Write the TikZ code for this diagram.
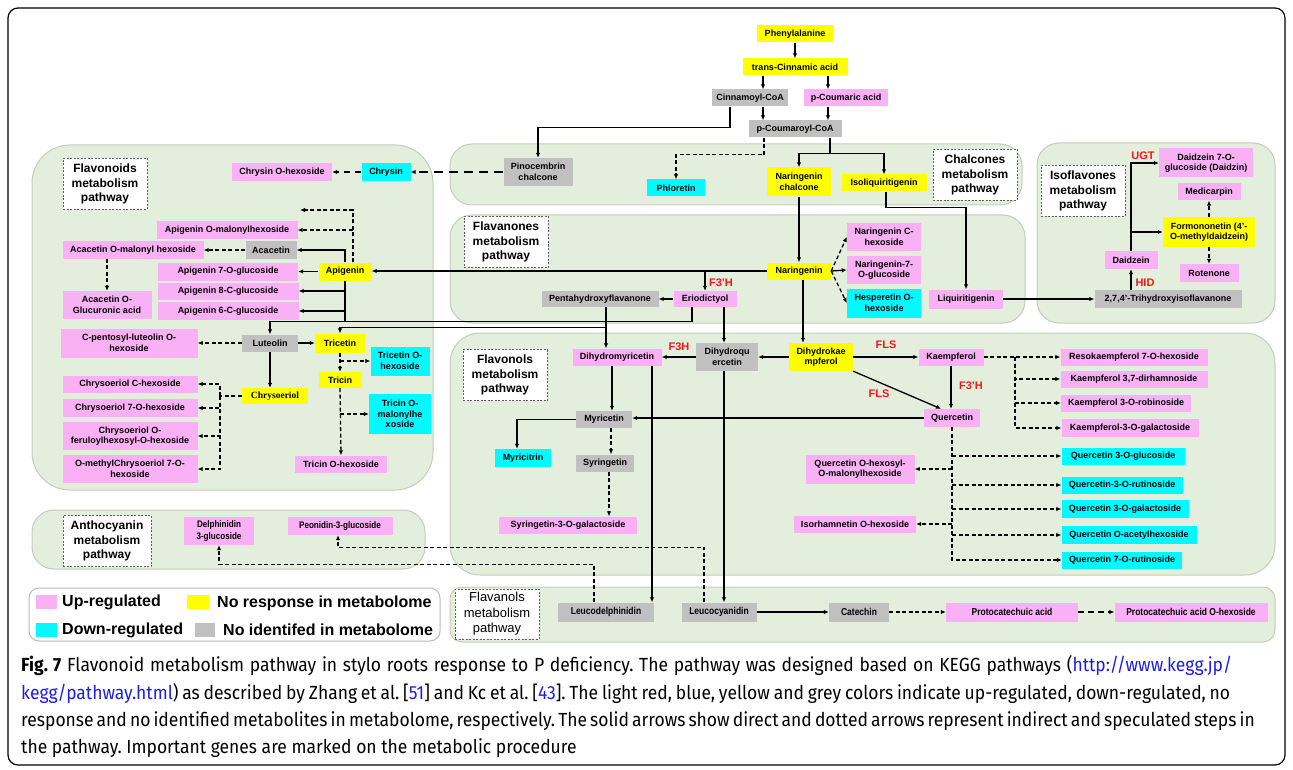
\documentclass[tikz,border=0pt]{standalone}
\usepackage{fontspec}
\setmainfont{Liberation Sans}
\newfontfamily\serifbold{Liberation Serif}
\newfontfamily\narrowfont[FakeStretch=0.85]{Liberation Sans}
\newfontfamily\captionfont[FakeStretch=0.92]{Fira Sans}
\usetikzlibrary{arrows.meta}
\frenchspacing

\definecolor{uppink}{RGB}{250,176,245}
\definecolor{noyellow}{RGB}{255,255,0}
\definecolor{downcyan}{RGB}{0,250,255}
\definecolor{noidgrey}{RGB}{192,192,192}
\definecolor{panelfill}{RGB}{228,238,220}
\definecolor{paneldraw}{RGB}{196,204,190}
\definecolor{genered}{RGB}{240,24,24}
\definecolor{linkblue}{RGB}{30,30,225}

\begin{document}
\begin{tikzpicture}[
            x = 1pt, y = -1pt, % pixel grid, y runs down
            > = {Latex[length=5pt, width=4.5pt]}, % arrow head style
            wd/.style = {minimum width=#1},
            twoline/.style = {minimum height=28}
        ]

        \tikzstyle{metab}=[
            inner sep = 1pt,
            align = center,
            minimum height = 17,
            font = \bfseries\fontsize{9}{10.5}\selectfont
        ]
        \tikzstyle{upreg}=[metab, fill=uppink]
        \tikzstyle{noresp}=[metab, fill=noyellow]
        \tikzstyle{downreg}=[metab, fill=downcyan]
        \tikzstyle{noident}=[metab, fill=noidgrey]
        \tikzstyle{panel}=[fill=panelfill, draw=paneldraw, line width=1pt, rounded corners=22]
        \tikzstyle{pathlabel}=[
            draw = gray!75!black,
            dash pattern = on 2pt off 1.5pt,
            line width = 0.8pt,
            fill = white,
            align = center,
            inner sep = 1pt,
            minimum width = 84,
            minimum height = 51,
            font = \bfseries\fontsize{12}{14.5}\selectfont
        ]
        \tikzstyle{gene}=[text=genered, font=\bfseries\fontsize{11}{12}\selectfont]
        \tikzstyle{arr}=[->, line width=1.3pt]
        \tikzstyle{darr}=[->, line width=1.3pt, dash pattern=on 4pt off 2.5pt]
        \tikzstyle{dline}=[line width=1.3pt, dash pattern=on 4pt off 2.5pt]
        \tikzstyle{legtext}=[anchor=west, inner sep=0pt, font=\bfseries\fontsize{16}{18}\selectfont]

        \useasboundingbox (0,0) rectangle (1293,770);
        \draw[line width=1.2pt, rounded corners=10] (8,8) rectangle (1285,765);

        % pathway panels
        \draw[panel, rounded corners=38] (32,145) rectangle (433,490);
        \draw[panel] (450,144) rectangle (1022,205);
        \draw[panel] (450,215) rectangle (1025,323);
        \draw[panel] (1037,143) rectangle (1275,323);
        \draw[panel, rounded corners=30] (450,333) rectangle (1275,575);
        \draw[panel] (32,510) rectangle (425,569);
        \draw[panel, rounded corners=12] (450,587) rectangle (1275,642);
        \draw[fill=white, draw=gray!55, line width=1pt, rounded corners=10] (29,588) rectangle (440,641);

        \node[pathlabel] (lflavd) at (105,184) {Flavonoids\\metabolism\\pathway};
        \node[pathlabel] (lchal) at (975,175) {Chalcones\\metabolism\\pathway};
        \node[pathlabel] (lflavn) at (506,242) {Flavanones\\metabolism\\pathway};
        \node[pathlabel] (lisofl) at (1083,191) {Isoflavones\\metabolism\\pathway};
        \node[pathlabel] (lflavl) at (505,375) {Flavonols\\metabolism\\pathway};
        \node[pathlabel, minimum width=88] (lanth) at (107,541) {Anthocyanin\\metabolism\\pathway};
        \node[pathlabel, minimum height=50, font=\fontsize{13}{15.5}\selectfont] (lflvn) at (497,614) {Flavanols\\metabolism\\pathway};

        % top of the pathway
        \node[noresp, wd=76] (phe) at (795,34) {Phenylalanine};
        \node[noresp, wd=105] (tca) at (795,67) {trans-Cinnamic acid};
        \node[noident, wd=76] (cin) at (750,98) {Cinnamoyl-CoA};
        \node[upreg, wd=84] (pca) at (846,98) {p-Coumaric acid};
        \node[noident, wd=93] (pcoa) at (795,129) {p-Coumaroyl-CoA};

        % chalcones
        \node[noident, wd=69, twoline] (pino) at (538,172) {Pinocembrin\\chalcone};
        \node[downreg, wd=58] (phlo) at (676,188) {Phloretin};
        \node[noresp, wd=64, minimum height=29] (narch) at (799,182) {Naringenin\\chalcone};
        \node[noresp, wd=85] (isoliq) at (884,183) {Isoliquiritigenin};

        % flavonoids
        \node[upreg, wd=100, minimum height=18] (chrhex) at (282,172) {Chrysin O-hexoside};
        \node[downreg, wd=49, minimum height=18] (chrysin) at (386,172) {Chrysin};
        \node[upreg, wd=141, minimum height=18] (apimal) at (227,230) {Apigenin O-malonylhexoside};
        \node[upreg, wd=141] (acamal) at (133,250) {Acacetin O-malonyl hexoside};
        \node[noident, wd=51] (acacetin) at (271,250) {Acacetin};
        \node[upreg, wd=140, minimum height=18] (api7) at (228,271.5) {Apigenin 7-O-glucoside};
        \node[noresp, wd=53, minimum height=18] (apigenin) at (345,271.5) {Apigenin};
        \node[upreg, wd=141] (api8) at (228,291) {Apigenin 8-C-glucoside};
        \node[upreg, wd=141, minimum height=18] (api6) at (228,311) {Apigenin 6-C-glucoside};
        \node[upreg, wd=89, twoline] (acaglu) at (107,305) {Acacetin O-\\Glucuronic acid};
        \node[upreg, wd=137, minimum height=29] (cpent) at (129,343) {C-pentosyl-luteolin O-\\hexoside};
        \node[noident, wd=56] (luteolin) at (270,343) {Luteolin};
        \node[noresp, wd=50, minimum height=19] (tricetin) at (340,343) {Tricetin};
        \node[downreg, wd=59, minimum height=29] (tricethex) at (400,361) {Tricetin O-\\hexoside};
        \node[noresp, wd=43, minimum height=16] (tricin) at (340,380) {Tricin};
        \node[downreg, wd=62, minimum height=40] (tricmal) at (400,414) {Tricin O-\\malonylhe\\xoside};
        \node[upreg, wd=92] (trichex) at (341,464) {Tricin O-hexoside};
        \node[noresp, wd=66, minimum height=16, font=\serifbold\bfseries\fontsize{9.5}{11}\selectfont] (chryso) at (275,396) {Chrysoeriol};
        \node[upreg, wd=135] (chc) at (130,384) {Chrysoeriol C-hexoside};
        \node[upreg, wd=135, minimum height=18] (ch7) at (130,408) {Chrysoeriol 7-O-hexoside};
        \node[upreg, wd=135, twoline] (chfer) at (130,436) {Chrysoeriol O-\\feruloylhexosyl-O-hexoside};
        \node[upreg, wd=135, twoline] (chmet) at (130,469) {O-methylChrysoeriol 7-O-\\hexoside};

        % flavanones
        \node[noresp, wd=64] (naringenin) at (799,271) {Naringenin};
        \node[upreg, wd=63, minimum height=16] (erio) at (705,299) {Eriodictyol};
        \node[noident, wd=117, minimum height=16] (penta) at (600,299) {Pentahydroxyflavanone};
        \node[upreg, wd=74, twoline] (narc) at (884,237) {Naringenin C-\\hexoside};
        \node[upreg, wd=74, twoline] (nar7) at (884,270) {Naringenin-7-\\O-glucoside};
        \node[downreg, wd=74, minimum height=29] (hesp) at (884,303) {Hesperetin O-\\hexoside};
        \node[upreg, wd=74, minimum height=19] (liq) at (966,299) {Liquiritigenin};

        % isoflavones
        \node[noident, wd=147, minimum height=18] (trihyd) at (1168,299) {2,7,4'-Trihydroxyisoflavanone};
        \node[upreg, wd=53, minimum height=18] (daidzein) at (1131,260) {Daidzein};
        \node[upreg, wd=94, minimum height=29] (daidzin) at (1206,163) {Daidzein 7-O-\\glucoside (Daidzin)};
        \node[upreg, wd=63] (medi) at (1209,192) {Medicarpin};
        \node[noresp, wd=92, minimum height=30] (formo) at (1209,232) {Formononetin (4'-\\O-methyldaidzein)};
        \node[upreg, wd=59, minimum height=18] (roten) at (1209,273) {Rotenone};

        % flavonols
        \node[upreg, wd=89] (dhm) at (617,357) {Dihydromyricetin};
        \node[noident, wd=62, twoline] (dhq) at (727,357) {Dihydroqu\\ercetin};
        \node[noresp, wd=64, twoline] (dhk) at (821,357) {Dihydrokae\\mpferol};
        \node[upreg, wd=65] (kaemp) at (951,357) {Kaempferol};
        \node[upreg, wd=56, minimum height=18] (querc) at (952,418) {Quercetin};
        \node[noident, wd=56] (myric) at (604,419.5) {Myricetin};
        \node[downreg, wd=56, minimum height=18] (myrtn) at (523,458) {Myricitrin};
        \node[noident, wd=58] (syrin) at (605,463) {Syringetin};
        \node[upreg, wd=138] (syrgal) at (568,525) {Syringetin-3-O-galactoside};
        \node[upreg, wd=147] (reso) at (1134,357) {Resokaempferol 7-O-hexoside};
        \node[upreg, wd=147] (kdir) at (1134,379) {Kaempferol 3,7-dirhamnoside};
        \node[upreg, wd=130] (krob) at (1126,403) {Kaempferol 3-O-robinoside};
        \node[upreg, wd=137, minimum height=18] (kgal) at (1130,428) {Kaempferol-3-O-galactoside};
        \node[downreg, wd=123] (qglu) at (1123,456) {Quercetin 3-O-glucoside};
        \node[downreg, wd=121] (qrut) at (1122,485) {Quercetin-3-O-rutinoside};
        \node[downreg, wd=127, minimum height=18] (qgal) at (1125,509) {Quercetin 3-O-galactoside};
        \node[downreg, wd=135, minimum height=18] (qace) at (1129,535) {Quercetin O-acetylhexoside};
        \node[downreg, wd=120] (q7rut) at (1122,560) {Quercetin 7-O-rutinoside};
        \node[upreg, wd=109, minimum height=29] (qhex) at (860,469) {Quercetin O-hexosyl-\\O-malonylhexoside};
        \node[upreg, wd=122] (isorh) at (855,524) {Isorhamnetin O-hexoside};

        % anthocyanins
        \node[upreg, wd=70, twoline, font=\narrowfont\bfseries\fontsize{9.5}{11.5}\selectfont] (delph) at (219,531) {Delphinidin\\3-glucoside};
        \node[upreg, wd=105, minimum height=18, font=\narrowfont\bfseries\fontsize{9.5}{11}\selectfont] (peon) at (340,526) {Peonidin-3-glucoside};

        % flavanols
        \tikzstyle{narrowbox}=[minimum height=19, font=\narrowfont\bfseries\fontsize{10}{12}\selectfont]
        \node[noident, narrowbox, wd=96] (leucod) at (606,612) {Leucodelphinidin};
        \node[noident, narrowbox, wd=75] (leucoc) at (719,612) {Leucocyanidin};
        \node[noident, narrowbox, wd=60] (catec) at (859,612) {Catechin};
        \node[upreg, narrowbox, wd=132] (proto) at (1012,612) {Protocatechuic acid};
        \node[upreg, narrowbox, wd=153] (protoh) at (1191,612) {Protocatechuic acid O-hexoside};

        % genes
        \node[gene] (g1) at (721,283) {F3'H};
        \node[gene] (g2) at (679,347) {F3H};
        \node[gene] (g3) at (886,345) {FLS};
        \node[gene] (g4) at (879,394) {FLS};
        \node[gene] (g5) at (971,386) {F3'H};
        \node[gene] (g6) at (1143,156) {UGT};
        \node[gene] (g7) at (1145,283) {HID};

        % free ends and split points
        \coordinate (apifree) at (300,210);
        \coordinate (chsplit) at (220,396);
        \coordinate (ksplit) at (1015,357);

        % phenylpropanoid steps
        \draw[arr] (phe.south) -- (tca.north);
        \draw[arr] ([xshift=-32]tca.south) -- ([xshift=13]cin.north);
        \draw[arr] ([xshift=33]tca.south) -- ([xshift=-18]pca.north);
        \draw[arr] ([xshift=13]cin.south) -- ([xshift=-32]pcoa.north);
        \draw[arr] ([xshift=-18]pca.south) -- ([xshift=33]pcoa.north);
        \draw[arr] ([xshift=-20]cin.south) -- ++(0,21) -| (pino.north);
        \draw[darr] ([xshift=-31]pcoa.south) -- ++(0,17) -| (phlo.north);
        \draw[line width=1.3pt] ([xshift=35]pcoa.south) -- ++(0,16) coordinate (nsplit);
        \draw[arr] (nsplit) -| (narch.north);
        \draw[arr] (nsplit) -| (isoliq.north);
        \draw[->, line width=1.3pt, dash pattern=on 9pt off 6pt] (pino.west) -- (chrysin.east);
        \draw[->, line width=1.3pt, dash pattern=on 6pt off 5pt] (chrysin.west) -- (chrhex.east);

        % chalcones to flavanones and isoflavones
        \draw[arr] (narch.south) -- (naringenin.north);
        \draw[arr] ([xshift=2]isoliq.south) -- ++(0,16) -| (liq.north);
        \draw[arr] (liq.east) -- (trihyd.west);
        \draw[arr] (trihyd.north -| daidzein.south) -- (daidzein.south);
        \draw[arr] (daidzein.north) |- (daidzin.west);
        \draw[arr] (daidzein.north |- formo.west) -- (formo.west);
        \draw[darr] (formo.north -| medi.south) -- (medi.south);
        \draw[darr] (formo.south -| roten.north) -- (roten.north);
        \draw[darr] (naringenin.east) -- (narc.west);
        \draw[arr] (naringenin.east) -- (nar7.west);
        \draw[darr] (naringenin.east) -- (hesp.west);

        % flavanones to flavones
        \draw[arr] (naringenin.west) -- (naringenin.west -| apigenin.east);
        \draw[arr] (naringenin.west -| erio.north) -- (erio.north);
        \draw[arr] (erio.west) -- (penta.east);
        \draw[arr] ([xshift=-13]erio.south) -- ++(0,14) -| (luteolin.north);
        \draw[arr] ([xshift=6]penta.south) -- ++(0,20) -| (tricetin.north);
        \draw[arr] ([xshift=6]penta.south) -- ([xshift=-11]dhm.north);

        % flavones
        \draw[arr] (apigenin.west) -- (api7.east);
        \draw[line width=1.3pt] (apigenin.south) -- ++(0,40);
        \draw[arr] (apigenin.south |- api8.east) -- (api8.east);
        \draw[arr] (apigenin.south |- api6.east) -- (api6.east);
        \draw[arr] (apigenin.north) |- (acacetin.east);
        \draw[darr] ([xshift=8]apigenin.north) |- (apimal.east);
        \draw[darr] ([xshift=8]apigenin.north) |- (apifree);
        \draw[darr] (acacetin.west) -- (acamal.east);
        \draw[darr] (acamal.south -| acaglu.north) -- (acaglu.north);
        \draw[arr] (luteolin.east) -- (tricetin.west);
        \draw[darr] (luteolin.west) -- (cpent.east);
        \draw[arr] (luteolin.south) -- (luteolin.south |- chryso.north);
        \draw[dline] (chryso.west) -- (chsplit);
        \draw[darr] (chsplit) |- (chc.east);
        \draw[darr] (chsplit) |- (ch7.east);
        \draw[darr] (chsplit) |- (chfer.east);
        \draw[darr] (chsplit) |- (chmet.east);
        \draw[darr] (tricetin.south) -- (tricin.north);
        \draw[darr] (tricetin.south |- tricethex.west) -- (tricethex.west);
        \draw[darr] (tricin.south) -- (trichex.north);
        \draw[darr] (tricin.south |- tricmal.west) -- (tricmal.west);

        % flavonols
        \draw[arr] ([xshift=4]naringenin.south) -- ([xshift=-18]dhk.north);
        \draw[arr] ([xshift=19]erio.south) -- ([xshift=-3]dhq.north);
        \draw[arr] (dhk.west) -- (dhq.east);
        \draw[arr] (dhq.west) -- (dhm.east);
        \draw[arr] (dhk.east) -- (kaemp.west);
        \draw[arr] (dhk.south east) -- ([xshift=-11]querc.north);
        \draw[arr] (kaemp.south) -- (kaemp.south |- querc.north);
        \draw[arr] (querc.west) -- (querc.west -| myric.east);
        \draw[arr] ([xshift=-5]dhm.south) -- ([xshift=8]myric.north);
        \draw[arr] (myric.west) -| ([xshift=-6]myrtn.north);
        \draw[darr] ([xshift=7]myric.south) -- ([xshift=6]syrin.north);
        \draw[darr] ([xshift=4]syrin.south) -- ([xshift=41]syrgal.north);
        \draw[darr] (kaemp.east) -- (reso.west);
        \draw[darr] (ksplit) |- (kdir.west);
        \draw[darr] (ksplit) |- (krob.west);
        \draw[darr] (ksplit) |- (kgal.west);
        \draw[darr] (querc.south) |- (q7rut.west);
        \draw[darr] (querc.south |- qglu.west) -- (qglu.west);
        \draw[darr] (querc.south |- qrut.west) -- (qrut.west);
        \draw[darr] (querc.south |- qgal.west) -- (qgal.west);
        \draw[darr] (querc.south |- qace.west) -- (qace.west);
        \draw[darr] (querc.south |- qhex.east) -- (qhex.east);
        \draw[darr] (querc.south |- isorh.east) -- (isorh.east);

        % flavanols and anthocyanins
        \draw[arr] ([xshift=35]dhm.south) -- ([xshift=46]leucod.north);
        \draw[arr] ([xshift=-3]dhq.south) -- ([xshift=5]leucoc.north);
        \draw[darr] ([xshift=-12]leucod.north) -- ++(0,-38) -| (delph.south);
        \draw[darr] ([xshift=-15]leucoc.north) -- ++(0,-55) -| ([xshift=-2]peon.south);
        \draw[arr] (leucoc.east) -- (catec.west);
        \draw[darr] (catec.east) -- (proto.west);
        \draw[->, line width=1.3pt, dash pattern=on 6pt off 4pt] (proto.east) -- (protoh.west);

        % legend
        \fill[uppink] (36,595) rectangle (57,609);
        \fill[noyellow] (187,595) rectangle (209,609);
        \fill[downcyan] (36,623) rectangle (57,637);
        \fill[noidgrey] (195,623) rectangle (215,637);
        \node[legtext] (lup) at (62,602) {Up-regulated};
        \node[legtext] (lno) at (217,603) {No response in metabolome};
        \node[legtext] (ldown) at (62,630) {Down-regulated};
        \node[legtext] (lnoid) at (223,630) {No identifed in metabolome};

        % caption
        \tikzstyle{capline}=[anchor=base west, inner sep=0pt, font=\captionfont\fontsize{19}{22}\selectfont]
        \node[capline] (cap1) at (21,671) {\makebox[1211pt][s]{{\bfseries Fig. 7} Flavonoid metabolism pathway in stylo roots response to P deficiency. The pathway was designed based on KEGG pathways ({\color{linkblue}http://www.kegg.jp/}}};
        \node[capline] (cap2) at (21,699) {\makebox[1209pt][s]{{\color{linkblue}kegg/pathway.html}) as described by Zhang et al. [{\color{linkblue}51}] and Kc et al. [{\color{linkblue}43}]. The light red, blue, yellow and grey colors indicate up-regulated, down-regulated, no}};
        \node[capline] (cap3) at (21,726) {\makebox[1211pt][s]{response and no identified metabolites in metabolome, respectively. The solid arrows show direct and dotted arrows represent indirect and speculated steps in}};
        \node[capline] (cap4) at (21,753) {the pathway. Important genes are marked on the metabolic procedure};

\end{tikzpicture}
\end{document}
